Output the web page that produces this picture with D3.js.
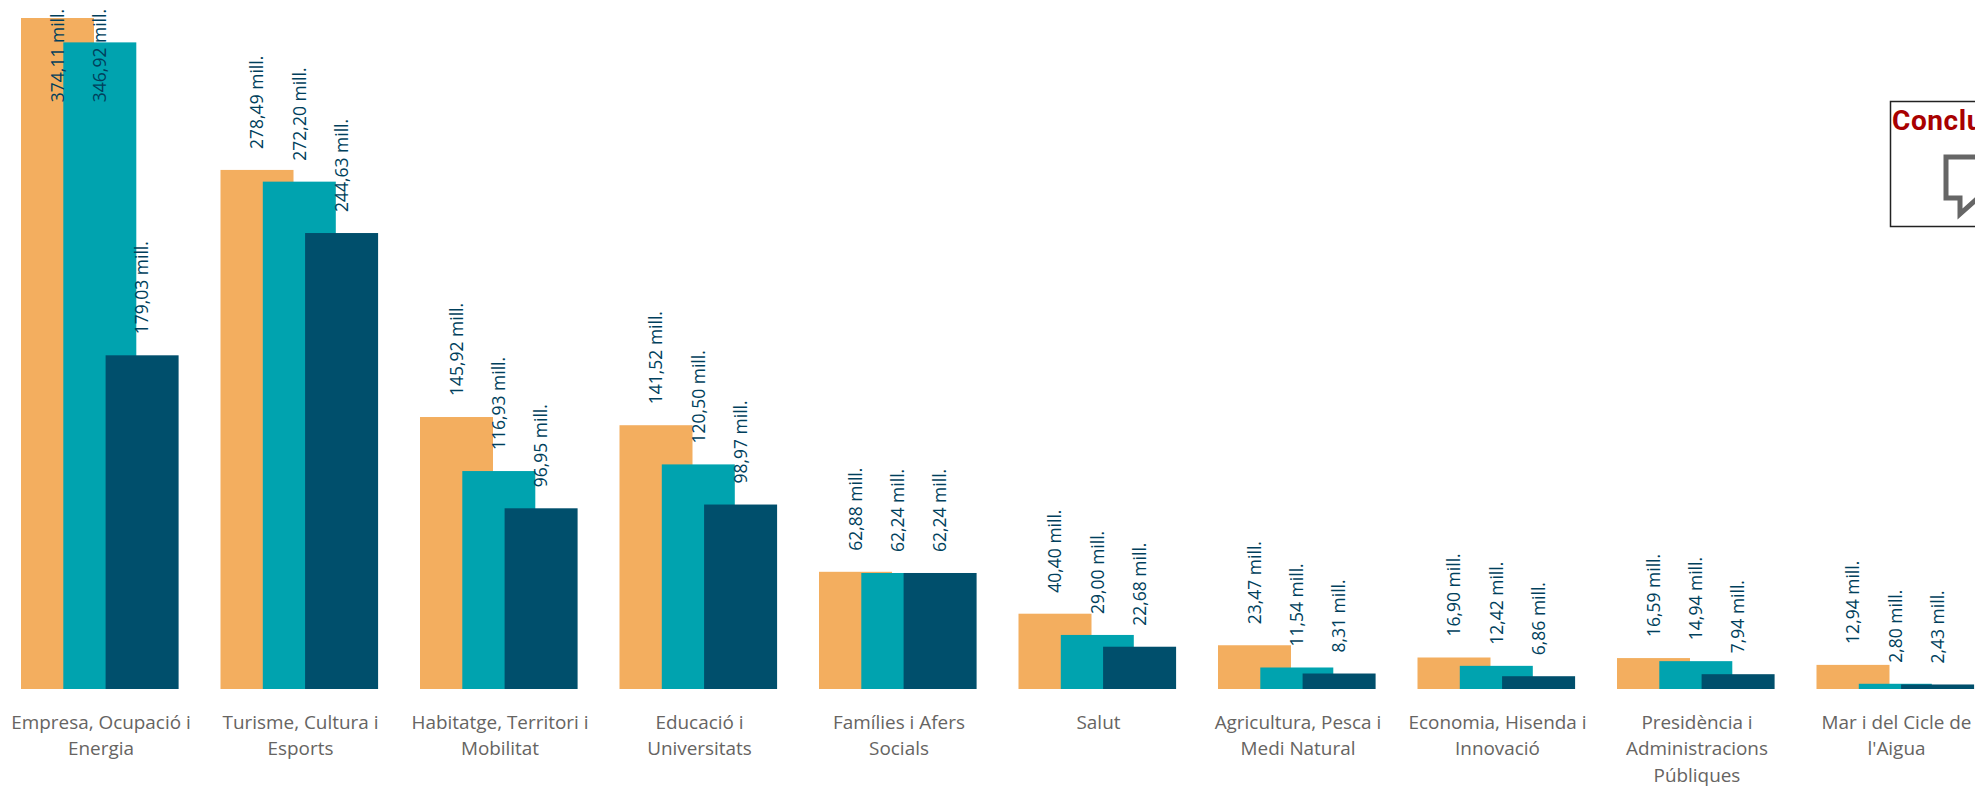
<!DOCTYPE html>
<html><head><meta charset="utf-8">
<script src="https://cdn.jsdelivr.net/npm/d3@7/dist/d3.min.js"></script>
<style>html,body{margin:0;padding:0;background:#fff;overflow:hidden}svg{display:block}</style>
</head><body><svg id="c" width="1975" height="786"></svg>
<script>
const categories = ["Empresa, Ocupació i Energia","Turisme, Cultura i Esports","Habitatge, Territori i Mobilitat","Educació i Universitats","Famílies i Afers Socials","Salut","Agricultura, Pesca i Medi Natural","Economia, Hisenda i Innovació","Presidència i Administracions Públiques","Mar i del Cicle de l'Aigua"];
const seriesNames = ["A","B","C"];
const seriesA = [374.11,278.49,145.92,141.52,62.88,40.40,23.47,16.90,16.59,12.94];
const seriesB = [346.92,272.20,116.93,120.50,62.24,29.00,11.54,12.42,14.94,2.80];
const seriesC = [179.03,244.63,96.95,98.97,62.24,22.68,8.31,6.86,7.94,2.43];
const seriesValues = [seriesA,seriesB,seriesC];
const colors = ["#F3AE5F","#00A3AF","#004F6C"];
const yMax = 360;
const boxTitle = "Conclusions";

const svg = d3.select("#c");
const baseY = 689, topY = 18;
const x0 = d3.scaleBand().domain(categories).range([21,1974.5]).paddingInner(0.208).paddingOuter(0).align(0);
const barW = 73;
const offset = d3.scalePoint().domain(seriesNames).range([0,84.6]);
const y = d3.scaleLinear().domain([0,yMax]).range([baseY,topY]).clamp(true);
const fmt = v => v.toFixed(2).replace(".",",")+" mill.";

seriesNames.forEach((s,si)=>{
  svg.append("g").selectAll("rect").data(categories).join("rect")
    .attr("x",c=>x0(c)+offset(s)).attr("width",barW)
    .attr("y",(c,i)=>y(seriesValues[si][i]))
    .attr("height",(c,i)=>baseY-y(seriesValues[si][i]))
    .attr("fill",colors[si]);
});
seriesNames.forEach((s,si)=>{
  svg.append("g").selectAll("text").data(categories).join("text")
    .text((c,i)=>fmt(seriesValues[si][i]))
    .style("font-family","'Open Sans'").style("font-size","17.5px").style("font-weight","500").attr("fill","#003F5C")
    .attr("dominant-baseline","central")
    .each(function(c,i){
      const len=this.getComputedTextLength();
      const bottom=Math.max(y(seriesValues[si][i])-21, 9+len);
      const cx=x0(c)+offset(s)+barW/2-0.7;
      d3.select(this).attr("transform",`translate(${cx},${bottom}) rotate(-90)`);
    });
});
// category axis labels
const lineH = 26.5, firstY = 728.5;
const axis = svg.append("g").selectAll("text").data(categories).join("text")
  .attr("text-anchor","middle").style("font-family","'Open Sans'").style("font-size","18.9px").attr("fill","#666462");
axis.each(function(c){
  const t=d3.select(this), cx=x0(c)+x0.bandwidth()/2+1;
  const words=c.split(" "); let line=[], n=0;
  let ts=t.append("tspan").attr("x",cx).attr("y",firstY);
  words.forEach(w=>{
    line.push(w); ts.text(line.join(" "));
    if(ts.node().getComputedTextLength()>192 && line.length>1){
      line.pop(); ts.text(line.join(" ")); line=[w]; n++;
      ts=t.append("tspan").attr("x",cx).attr("y",firstY+lineH*n).text(w);
    }
  });
});
// conclusions box
const box = svg.append("g");
box.append("rect").attr("x",1890.5).attr("y",101.5).attr("width",120).attr("height",125).attr("fill","none").attr("stroke","#222").attr("stroke-width",1.5);
box.append("text").text(boxTitle).attr("x",1892).attr("y",130).style("font-family","Roboto").style("font-weight","700").style("font-size","28px").style("letter-spacing","0.6px").attr("fill","#A80000");
box.append("path").attr("d","M1946 157 V198 H1960 V214 L1978 198 H2000 V157 Z").attr("fill","none").attr("stroke","#666").attr("stroke-width",5);
</script></body></html>
